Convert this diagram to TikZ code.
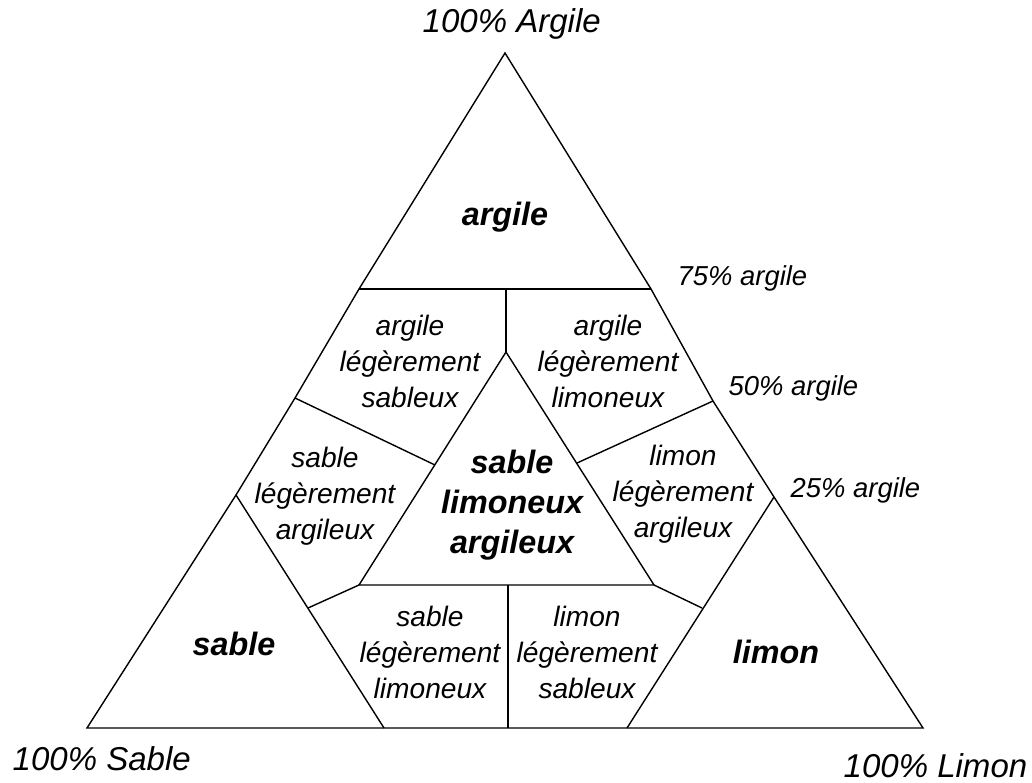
\documentclass[tikz,border=0pt]{standalone}
\usepackage{fontspec}
\setmainfont{Liberation Sans}
\usetikzlibrary{calc}

\begin{document}
\begin{tikzpicture}[
    x=0.25mm, y=-0.25mm,
    line width=1pt, line join=miter,
    zone/.style={font=\fontsize{20}{25.6}\selectfont\itshape, align=center, inner sep=0pt},
    mainzone/.style={font=\fontsize{23}{28.5}\selectfont\bfseries\itshape, align=center, inner sep=0pt},
    pct/.style={font=\fontsize{19.5}{24}\selectfont\itshape, anchor=base west, inner sep=0pt},
    corner/.style={font=\fontsize{23.5}{28}\selectfont\itshape, inner sep=0pt}
  ]
    \useasboundingbox (0,0) rectangle (1032,782);

    \coordinate (S) at (87,728);
    \coordinate (L) at (923,728);
    \coordinate (A) at (505,53);
    \coordinate (al) at (359,289);
    \coordinate (ar) at (651,289);
    \coordinate (am) at (506,289);
    \coordinate (ia) at (506,352);
    \coordinate (il) at (359,585);
    \coordinate (ir) at (654,585);
    \coordinate (ml) at (295,398);
    \coordinate (mr) at (713,401);
    \coordinate (mli) at (435,465);
    \coordinate (mri) at (577,463);
    \coordinate (sa) at (236,495);
    \coordinate (sr) at (384,728);
    \coordinate (sm) at (308,608);
    \coordinate (la) at (774,497);
    \coordinate (ll) at (627,728);
    \coordinate (lm) at (702,608);
    \coordinate (bm) at (508,585);
    \coordinate (bb) at (508,728);

    \draw (S) -- (sa) -- (ml) -- (al) -- (A) -- (ar) -- (mr) -- (la) -- (L) -- cycle;
    \draw (al) -- (ar);
    \draw (am) -- (ia);
    \draw (il) -- (ia) -- (ir) -- cycle;
    \draw (ml) -- (mli);
    \draw (mr) -- (mri);
    \draw (sa) -- (sr);
    \draw (la) -- (ll);
    \draw (sm) -- (il);
    \draw (lm) -- (ir);
    \draw (bm) -- (bb);

    \node[corner, anchor=base west] (argilecorner) at (422,33) {100\% Argile};
    \node[corner, anchor=base west] (sablecorner) at (12,770) {100\% Sable};
    \node[corner, anchor=base east] (limoncorner) at (1028,777) {100\% Limon};

    \node[pct] (p75) at (677,285) {75\% argile};
    \node[pct] (p50) at (728,395) {50\% argile};
    \node[pct] (p25) at (790,497) {25\% argile};

    \node[mainzone, anchor=base] (argile) at (505,225) {argile};
    \node[mainzone, anchor=base] (sable) at (234,655) {sable};
    \node[mainzone, anchor=base] (limon) at (776,663) {limon};
    \node[mainzone] (sla) at (512,505) {sable\\limoneux\\argileux};

    \node[zone] (als) at (410,361) {argile\\légèrement\\sableux};
    \node[zone] (all) at (608,361) {argile\\légèrement\\limoneux};
    \node[zone] (sla2) at (325,496) {sable\\légèrement\\argileux};
    \node[zone] (lla) at (683,494) {limon\\légèrement\\argileux};
    \node[zone] (sll) at (430,652) {sable\\légèrement\\limoneux};
    \node[zone] (lls) at (587,652) {limon\\légèrement\\sableux};
  \end{tikzpicture}
\end{document}
